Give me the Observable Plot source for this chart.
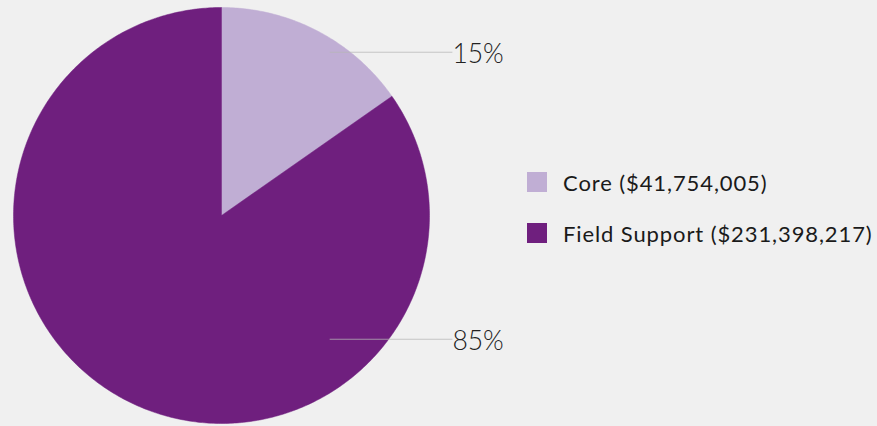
<!DOCTYPE html>
<html>
<head>
<meta charset="utf-8">
<script src="https://cdn.jsdelivr.net/npm/d3@7"></script>
<script src="https://cdn.jsdelivr.net/npm/@observablehq/plot@0.6"></script>
<style>
  html, body { margin: 0; padding: 0; background: #f0f0f0; }
  #wrap { position: relative; width: 877px; height: 426px; overflow: hidden; }
  #legend { position: absolute; left: 527px; top: 169px; font-family: Lato, "Open Sans", sans-serif; font-size: 22px; letter-spacing: 0.9px; color: #1a1a1a; }
  .item { display: flex; align-items: center; height: 26px; margin-bottom: 25px; white-space: nowrap; }
  .sw { width: 20px; height: 20px; margin-right: 16px; flex: none; }
</style>
</head>
<body>
<div id="wrap"><div id="legend"></div></div>
<script>
const categories = ["Core", "Field Support"];
const amounts = [41754005, 231398217];
const legendLabels = ["Core ($41,754,005)", "Field Support ($231,398,217)"];
const percentLabels = ["15%", "85%"];
const colors = ["#c0aed4", "#6f1f7e"];
// leader-line layout (label heights in pie-radius units)
const labelY = [0.785, -0.595];
const leaderStart = 0.52, leaderEnd = 1.11;

const arcs = d3.pie().sort(null).value(d => d)(amounts);
const slicePts = [];
arcs.forEach((a, i) => {
  slicePts.push({cat: categories[i], x: 0, y: 0});
  const n = Math.max(2, Math.ceil((a.endAngle - a.startAngle) * 90));
  for (let k = 0; k <= n; k++) {
    const t = a.startAngle + (a.endAngle - a.startAngle) * k / n;
    slicePts.push({cat: categories[i], x: Math.sin(t), y: Math.cos(t)});
  }
  slicePts.push({cat: categories[i], x: 0, y: 0});
});
const labels = categories.map((c, i) => ({cat: c, text: percentLabels[i], y: labelY[i]}));

const plot = Plot.plot({
  width: 877, height: 426,
  margin: 0,
  style: {background: "#f0f0f0", overflow: "visible"},
  x: {domain: [-1, 1], range: [13, 429], axis: null},
  y: {domain: [-1, 1], range: [423, 7], axis: null},
  color: {domain: categories, range: colors},
  marks: [
    Plot.line(slicePts, {x: "x", y: "y", z: "cat", fill: "cat", stroke: "cat", strokeWidth: 0.5, curve: "linear"}),
    Plot.link(labels, {x1: leaderStart, x2: leaderEnd, y1: "y", y2: "y", stroke: "#b6b6b6", strokeOpacity: 0.75, strokeWidth: 1}),
    Plot.text(labels, {x: leaderEnd, y: "y", text: "text", textAnchor: "start", dx: 0, dy: 2, fontSize: 26.5, fontWeight: 300, fontFamily: "Lato, 'Open Sans', sans-serif", fill: "#222"})
  ]
});
const wrap = document.getElementById("wrap");
wrap.insertBefore(plot, wrap.firstChild);

const colorScale = plot.scale("color");
const legend = document.getElementById("legend");
categories.forEach((c, i) => {
  const item = document.createElement("div");
  item.className = "item";
  const sw = document.createElement("span");
  sw.className = "sw";
  sw.style.background = colorScale.apply(c);
  const tx = document.createElement("span");
  tx.textContent = legendLabels[i];
  item.appendChild(sw); item.appendChild(tx);
  legend.appendChild(item);
});
</script>
</body>
</html>
